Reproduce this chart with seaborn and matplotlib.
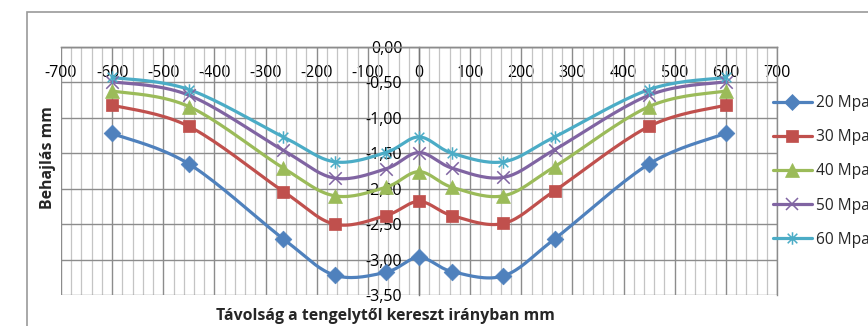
import numpy as np
import pandas as pd
import matplotlib
matplotlib.use("Agg")
import matplotlib.pyplot as plt
import seaborn as sns
from matplotlib.patches import Rectangle
from matplotlib.lines import Line2D
from matplotlib.path import Path

# ---------------- data ----------------
distance = [-600, -450, -265, -165, -65, 0, 65, 165, 265, 450, 600]
s20 = [-1.22, -1.65, -2.71, -3.22, -3.18, -2.97, -3.17, -3.23, -2.71, -1.65, -1.22]
s30 = [-0.82, -1.12, -2.04, -2.50, -2.38, -2.18, -2.38, -2.49, -2.03, -1.12, -0.82]
s40 = [-0.62, -0.84, -1.71, -2.10, -1.98, -1.76, -1.98, -2.10, -1.69, -0.84, -0.62]
s50 = [-0.49, -0.68, -1.46, -1.85, -1.72, -1.49, -1.71, -1.84, -1.45, -0.68, -0.49]
s60 = [-0.43, -0.60, -1.27, -1.62, -1.49, -1.27, -1.50, -1.62, -1.27, -0.60, -0.43]
series_labels = ["20 Mpa", "30 Mpa", "40 Mpa", "50 Mpa", "60 Mpa"]
x_ticks = list(range(-700, 701, 100))
y_ticks = [0.0, -0.5, -1.0, -1.5, -2.0, -2.5, -3.0, -3.5]
x_title = "Távolság a tengelytől kereszt irányban mm"
y_title = "Behajlás mm"

series_values = [s20, s30, s40, s50, s60]
colors = ["#4F81BD", "#C0504D", "#9BBB59", "#8064A2", "#4BACC6"]

# asterisk marker (x + vertical bar), like Excel
ast = Path([(-1, -1), (1, 1), (-1, 1), (1, -1), (0, -1.3), (0, 1.3)],
           [Path.MOVETO, Path.LINETO, Path.MOVETO, Path.LINETO, Path.MOVETO, Path.LINETO])
markers = ["D", "s", "^", "x", ast]
msizes = [8.5, 8.5, 10, 9, 9]
unfilled = [False, False, False, True, True]


def smooth(xs, ys, n=20):
    """Excel-like smoothed line (Catmull-Rom Bezier) through the points."""
    P = np.column_stack([xs, ys]).astype(float)
    P = np.vstack([P[0], P, P[-1]])
    out = []
    t = np.linspace(0, 1, n)
    for i in range(1, len(P) - 2):
        p0, p1, p2, p3 = P[i - 1], P[i], P[i + 1], P[i + 2]
        c1 = p1 + (p2 - p0) / 6
        c2 = p2 - (p3 - p1) / 6
        seg = ((1 - t) ** 3)[:, None] * p1 + (3 * (1 - t) ** 2 * t)[:, None] * c1 \
            + (3 * (1 - t) * t ** 2)[:, None] * c2 + (t ** 3)[:, None] * p2
        out.append(seg if i == 1 else seg[1:])
    return np.vstack(out)


sns.set_theme(style="white")
plt.rcParams["font.family"] = ["Open Sans", "DejaVu Sans"]
plt.rcParams["axes.unicode_minus"] = False

fig = plt.figure(figsize=(8.68, 3.26), dpi=100)
ax = fig.add_axes([61 / 868, 1 - 295 / 326, (777 - 61) / 868, (295 - 47) / 326])

# outer chart border
fig.add_artist(Rectangle((27 / 868, -0.2), 1.0, 1.2 - 12 / 326, transform=fig.transFigure,
                         fill=False, edgecolor="#9a9a9a", lw=1.2, zorder=0))

rows = []
for lab, vals in zip(series_labels, series_values):
    sm = smooth(distance, vals)
    for k, (xx, yy) in enumerate(sm):
        rows.append({"x": xx, "y": yy, "series": lab, "order": k})
curve_df = pd.DataFrame(rows)
pts_df = pd.DataFrame({"x": np.tile(distance, 5),
                       "y": np.concatenate(series_values),
                       "series": np.repeat(series_labels, len(distance))})

LW = 2.3
sns.lineplot(data=curve_df, x="x", y="y", hue="series", palette=colors, sort=False,
             estimator=None, units="series", lw=LW, ax=ax, legend=False, zorder=3)
for lab, c, m, ms, uf in zip(series_labels, colors, markers, msizes, unfilled):
    d = pts_df[pts_df["series"] == lab]
    sns.scatterplot(data=d, x="x", y="y", marker=m, s=ms ** 2, color=c, edgecolor=c,
                    linewidth=(1.1 if uf else 0.5), ax=ax, legend=False, zorder=4)

ax.set_xlim(-700, 700)
ax.set_ylim(-3.5, 0)
ax.set_xticks(x_ticks)
ax.set_xticks(list(range(-700, 701, 20)), minor=True)
ax.set_yticks(y_ticks)
ax.set_xticklabels([str(v) for v in x_ticks])
ax.set_yticklabels([f"{v:.2f}".replace(".", ",") for v in y_ticks])
ax.grid(which="major", color="#8c8c8c", lw=1.0)
ax.grid(which="minor", axis="x", color="#c4c4c4", lw=0.9)
ax.set_axisbelow(True)
for s in ax.spines.values():
    s.set_color("#8c8c8c")
    s.set_linewidth(1.0)
ax.spines["bottom"].set_position(("data", 0))
ax.spines["left"].set_position(("data", 0))
ax.spines["left"].set_color("#777777")
ax.tick_params(axis="x", which="both", length=0, pad=13, labelsize=11.5, colors="black")
ax.tick_params(axis="y", length=0, pad=12, labelsize=11.5, colors="black")
ax.set_xlabel("")
ax.set_ylabel("")

fig.text(48 / 868, 1 - 158 / 326, y_title, rotation=90, ha="center", va="center",
         fontsize=11.4, fontweight="bold")
fig.text(385 / 868, 1 - 316 / 326, x_title, ha="center", va="center",
         fontsize=11.4, fontweight="bold")

handles = [Line2D([0], [0], color=c, lw=LW, marker=m, markersize=ms,
                  markeredgewidth=(1.1 if uf else 0.5), markeredgecolor=c,
                  markerfacecolor=c)
           for c, m, ms, uf in zip(colors, markers, msizes, unfilled)]
fig.legend(handles, series_labels, loc="upper left", bbox_to_anchor=(773 / 868, 1 - 95 / 326),
           frameon=False, fontsize=11.2, handlelength=2.5, handletextpad=0.28,
           labelspacing=1.17, borderpad=0, borderaxespad=0)

fig.savefig("out.png", dpi=100)
